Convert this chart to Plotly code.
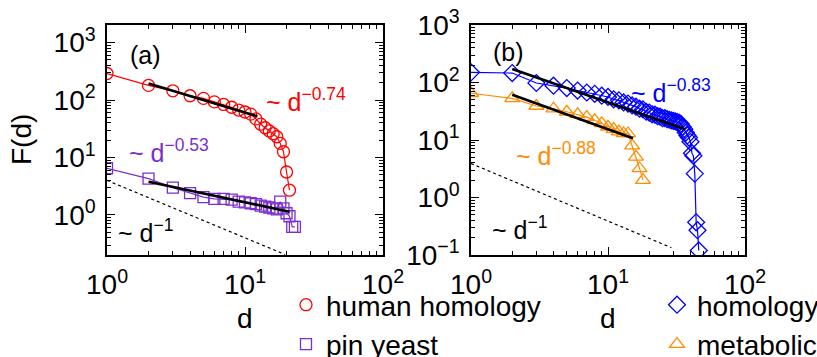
import plotly.graph_objects as go

# ---------------- data ----------------
# panel (a)
hh_d = list(range(1, 22))
hh_F = [290, 180, 145, 119, 107, 93, 84, 75, 67, 62, 57,
        47, 38, 33, 29, 26, 23, 17.6, 12.6, 5.6, 2.7]

py_d = list(range(1, 24))
py_F = [6.5, 4.3, 3.0, 2.4, 2.05, 1.9, 1.9, 1.85, 1.7, 1.65, 1.6, 1.55,
        1.45, 1.4, 1.35, 1.3, 1.25, 1.7, 1.3, 1.07, 0.95, 0.62, 0.62]

fit_hh_d = [2, 12.3]
fit_hh_F = [195, 52]
fit_py_d = [2, 21]
fit_py_F = [3.8, 1.14]
ref_a_d = [1, 19.5]
ref_a_F = [4.0, 0.205]

# panel (b)
ho_d = list(range(1, 47))
ho_F = [150, 146, 98, 88, 80, 72.5, 67, 63.5, 59, 56, 51, 49, 45, 43, 40,
        38, 35, 34, 31, 30, 28, 27.5, 26, 25.5, 24, 24, 23, 22.5, 22, 21.5,
        21, 20.5, 20, 19, 17, 15.5, 13.5, 12, 11, 9.3, 5.9, 5.3, 2.6,
        0.37, 0.27, 0.12]

me_d = list(range(1, 19))
me_F = [65, 53, 39, 35, 31, 28, 25, 22, 19.5, 17, 15.5, 14, 13, 13,
        8, 5.1, 3.2, 2.0]

fit_ho_d = [2, 36.5]
fit_ho_F = [171, 15.4]
fit_me_d = [2, 15.2]
fit_me_F = [61, 10.7]
ref_b_d = [1, 29]
ref_b_F = [3.9, 0.134]

# tick labels
x_tick_exp = [0, 1, 2]
ya_tick_exp = [0, 1, 2, 3]
yb_tick_exp = [-1, 0, 1, 2, 3]

RED = "#ff0000"
PURPLE = "#7b2fd0"
BLUE = "#0000ff"
ORANGE = "#ff8c00"
FONT = "Liberation Sans, Arial, Helvetica, sans-serif"
BIG = 28

W, H = 817, 357


def px(x):
    return x / W


def py(y):
    return 1 - y / H


def tickvals(exps):
    return [10.0 ** e for e in exps]


def ticktext(exps):
    return ["10<sup>%s</sup>" % (str(e).replace("-", "−")) for e in exps]


def minorvals(lo, hi):
    out = []
    for e in range(lo, hi + 1):
        for m in range(2, 10):
            out.append(m * 10.0 ** e)
    return out


fig = go.Figure()


def add_series(d, F, color, symbol, name, xa, ya, legend, size):
    fig.add_trace(go.Scatter(x=d, y=F, mode="lines", line=dict(color=color, width=1.2),
                             xaxis=xa, yaxis=ya, showlegend=False, hoverinfo="skip"))
    fig.add_trace(go.Scatter(x=d, y=F, mode="markers", name=name,
                             marker=dict(symbol=symbol, size=size, color=color,
                                         line=dict(color=color, width=1.3)),
                             xaxis=xa, yaxis=ya, legend=legend))


def add_line(d, F, xa, ya, dash="solid", width=2.6):
    fig.add_trace(go.Scatter(x=d, y=F, mode="lines", line=dict(color="black", width=width, dash=dash),
                             xaxis=xa, yaxis=ya, showlegend=False, hoverinfo="skip"))


add_line(ref_a_d, ref_a_F, "x", "y", dash="dot", width=1.2)
add_series(hh_d, hh_F, RED, "circle-open", "human homology", "x", "y", "legend", 12)
add_series(py_d, py_F, PURPLE, "square-open", "pin yeast", "x", "y", "legend", 11)
add_line(fit_hh_d, fit_hh_F, "x", "y")
add_line(fit_py_d, fit_py_F, "x", "y")

add_line(ref_b_d, ref_b_F, "x2", "y2", dash="dot", width=1.2)
add_series(ho_d, ho_F, BLUE, "diamond-open", "homology", "x2", "y2", "legend2", 13)
add_series(me_d, me_F, ORANGE, "triangle-up-open", "metabolic", "x2", "y2", "legend2", 13)
add_line(fit_ho_d, fit_ho_F, "x2", "y2")
add_line(fit_me_d, fit_me_F, "x2", "y2")


def axis(exps, minor_lo, minor_hi, standoff):
    return dict(type="log", tickmode="array", tickvals=tickvals(exps), ticktext=ticktext(exps),
                showgrid=False, zeroline=False, automargin=False,
                showline=True, linecolor="black", linewidth=1.5, mirror="ticks",
                ticks="inside", ticklen=8, tickwidth=1.3, tickcolor="black",
                ticklabelstandoff=standoff,
                minor=dict(ticks="inside", ticklen=4, tickwidth=1, tickcolor="black",
                           tickmode="array", tickvals=minorvals(minor_lo, minor_hi), showgrid=False),
                tickfont=dict(family=FONT, size=BIG, color="black"))


fig.update_layout(
    width=W, height=H, margin=dict(l=0, r=0, t=0, b=0, autoexpand=False),
    paper_bgcolor="white", plot_bgcolor="white",
    font=dict(family=FONT, size=BIG, color="black"),
    xaxis=dict(axis(x_tick_exp, 0, 1, 4), domain=[px(107), px(383)], range=[0, 2], anchor="y"),
    yaxis=dict(axis(ya_tick_exp, -1, 3, 4), domain=[py(255), py(25)], range=[-0.697, 3.307], anchor="x"),
    xaxis2=dict(axis(x_tick_exp, 0, 1, 4), domain=[px(471), px(745)], range=[0, 2], anchor="y2"),
    yaxis2=dict(axis(yb_tick_exp, -1, 2, 4), domain=[py(255), py(25)], range=[-1, 3], anchor="x2"),
    legend=dict(x=px(286), y=py(280), xanchor="left", yanchor="top", bgcolor="rgba(0,0,0,0)",
                font=dict(family=FONT, size=BIG), tracegroupgap=0, itemwidth=30),
    legend2=dict(x=px(657), y=py(280), xanchor="left", yanchor="top", bgcolor="rgba(0,0,0,0)",
                 font=dict(family=FONT, size=BIG), tracegroupgap=0, itemwidth=30),
)

ann = [
    ("(a)", 145, 55, "center", "black", 25, 0),
    ("(b)", 508, 52, "center", "black", 25, 0),
    ("~ d<sup>−0.74</sup>", 264, 100, "left", RED, 25, 0),
    ("~ d<sup>−0.53</sup>", 127, 151, "left", PURPLE, 25, 0),
    ("~ d<sup>−1</sup>", 116, 231, "left", "black", 25, 0),
    ("~ d<sup>−0.83</sup>", 629, 91, "left", BLUE, 25, 0),
    ("~ d<sup>−0.88</sup>", 514, 154, "left", ORANGE, 25, 0),
    ("~ d<sup>−1</sup>", 490, 228, "left", "black", 25, 0),
    # axis titles
    ("d", 245, 318, "center", "black", BIG, 0),
    ("d", 608, 318, "center", "black", BIG, 0),
    ("F(d)", 22, 140, "center", "black", BIG, -90),
]
for text, x, y, xa, color, size, ang in ann:
    fig.add_annotation(text=text, x=px(x), y=py(y), xref="paper", yref="paper",
                       xanchor=xa, yanchor="middle", showarrow=False, textangle=ang,
                       font=dict(family=FONT, size=size, color=color))

fig.write_html("out.html")
